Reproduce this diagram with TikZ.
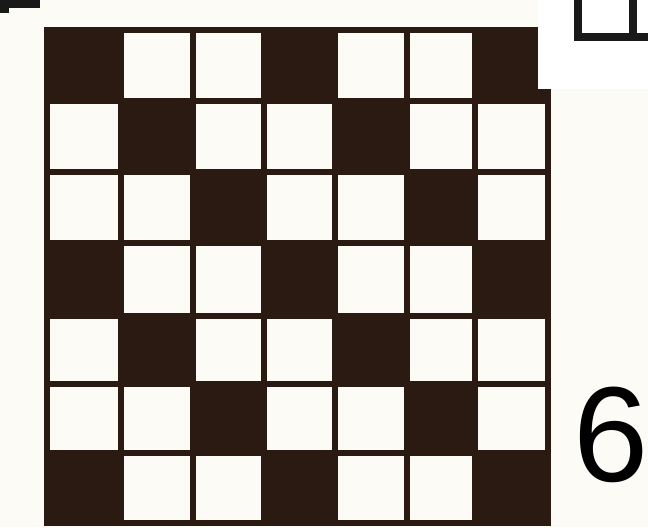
\documentclass[tikz,border=0pt]{standalone}
\usepackage{fontspec}
\newfontfamily\digitfont{Liberation Sans}
\definecolor{ink}{RGB}{42,26,17}
\definecolor{paper}{RGB}{253,251,246}
\tikzset{
  cell/.style={fill=ink},
  gridline/.style={draw=ink, line width=3.8pt, line cap=rect},
  frameline/.style={draw=black!90, line width=4.5pt},
}
\begin{document}
\begin{tikzpicture}[x=0.02cm, y=-0.02cm]
\useasboundingbox (0,0) rectangle (648,527);
\clip (0,0) rectangle (648,527);
\fill[paper] (0,0) rectangle (648,527);

% dark cells
\foreach \r in {0,...,6}
  \foreach \c in {0,...,6} {
    \pgfmathsetmacro\xa{{47,121,193,264,335,407,475,548}[\c]}
    \pgfmathsetmacro\xb{{47,121,193,264,335,407,475,548}[\c+1]}
    \pgfmathsetmacro\ya{{30,101,172,243,316,384,453,523}[\r]}
    \pgfmathsetmacro\yb{{30,101,172,243,316,384,453,523}[\r+1]}
    \pgfmathtruncatemacro\dk{mod(\c-\r+6,3)}
    \ifnum\dk=0 \fill[cell] (\xa,\ya) rectangle (\xb,\yb); \fi
  }

% grid lines
\foreach \x in {47,121,193,264,335,407,475,548}
  \draw[gridline] (\x,30) -- (\x,523);
\foreach \y in {30,101,172,243,316,384,453,523}
  \draw[gridline] (47,\y) -- (548,\y);

% top right corner
\fill[white] (538,0) rectangle (648,89);
\draw[frameline] (578,-5) -- (578,37) -- (653,37);
\draw[frameline] (633,-5) -- (633,37);

% top left corner
\fill[black!90] (0,0) rectangle (40,8);
\fill[black!90] (0,0) rectangle (9,13);

% label
\node[font=\digitfont\fontsize{77}{77}\selectfont, anchor=base west,
  inner sep=0pt] (six) at (573,481) {6};

\end{tikzpicture}
\end{document}
